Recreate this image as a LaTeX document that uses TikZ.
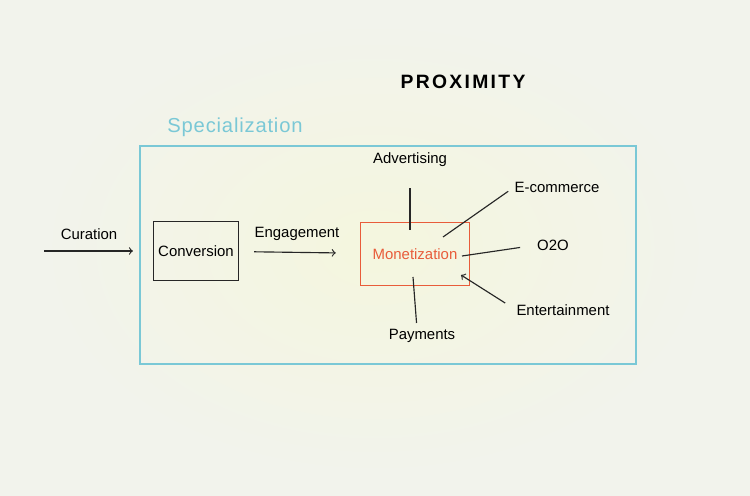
\documentclass[tikz,border=0pt]{standalone}
\usepackage{fontspec}
\setmainfont{Liberation Sans}
\usetikzlibrary{calc}
\definecolor{paper}{RGB}{244,246,222}
\definecolor{paperedge}{RGB}{242,243,236}
\definecolor{cyanpen}{RGB}{122,200,214}
\definecolor{redpen}{RGB}{232,92,58}

\begin{document}
\begin{tikzpicture}[x=0.02cm,y=-0.02cm,
			          pen/.style={line width=0.65pt,black!85},
			          word/.style={inner sep=0pt,text=black,font=\fontsize{8.5}{10}\selectfont},
			          box/.style={draw,pen,inner sep=0pt}]
			          %paper
			          \fill[paperedge] (0,0) rectangle (750,496);
			          \shade[inner color=paper,outer color=paperedge] (40,20) rectangle (710,476);
			          
			          %titles
			          \node[inner sep=0pt,font=\fontsize{11}{13}\selectfont\bfseries\addfontfeatures{LetterSpace=12}] (prox) at (463,82) {PROXIMITY};
			          \node[inner sep=0pt,text=cyanpen,font=\fontsize{11.5}{14}\selectfont\addfontfeatures{LetterSpace=4}] (spec) at (235,127) {Specialization};
			          \draw[cyanpen,line width=0.6pt] (140,146) rectangle (636,364);
			          
			          %boxes
			          \node[box,minimum width=1.7cm,minimum height=1.18cm,word] (conv) at (196,251) {Conversion};
			          \node[box,draw=redpen,line width=0.85pt,minimum width=2.18cm,minimum height=1.26cm,word,text=redpen] (mon) at (415,254) {Monetization};
			          
			          %left part
			          \coordinate (curA) at (44,251);
			          \node[word] (cur) at (89,234) {Curation};
			          \node[word] (eng) at (297,234) {Engagement};
			          \draw[pen,->,shorten >=0.4cm] (curA) -- (conv);
			          \draw[pen,->,shorten <=0.3cm,shorten >=0.48cm] (conv) -- (mon);
			          
			          %around monetization
			          \node[word] (adv) at (410,160) {Advertising};
			          \node[word] (pay) at (422,336) {Payments};
			          \node[word] (ecom) at (557,187) {E-commerce};
			          \node[word] (oto) at (553,245) {O2O};
			          \node[word] (ent) at (563,310) {Entertainment};
			          \coordinate (advTip) at (adv.south |- {(0,230)});
			          \coordinate (payTip) at (413,277);
			          \coordinate (ecomTip) at (443,237);
			          \coordinate (otoTip) at (462,256);
			          \coordinate (entTip) at (461,275);
			          \draw[pen,shorten <=0.42cm] (adv.south) -- (advTip);
			          \draw[pen,shorten <=0.12cm] ([xshift=-0.1cm]pay.north) -- (payTip);
			          \draw[pen,shorten <=0.15cm] (ecom.west) -- (ecomTip);
			          \draw[pen,shorten <=0.34cm] (oto.west) -- (otoTip);
			          \draw[pen,->,shorten <=0.26cm] (ent.west) -- (entTip);
				  \end{tikzpicture}
\end{document}
